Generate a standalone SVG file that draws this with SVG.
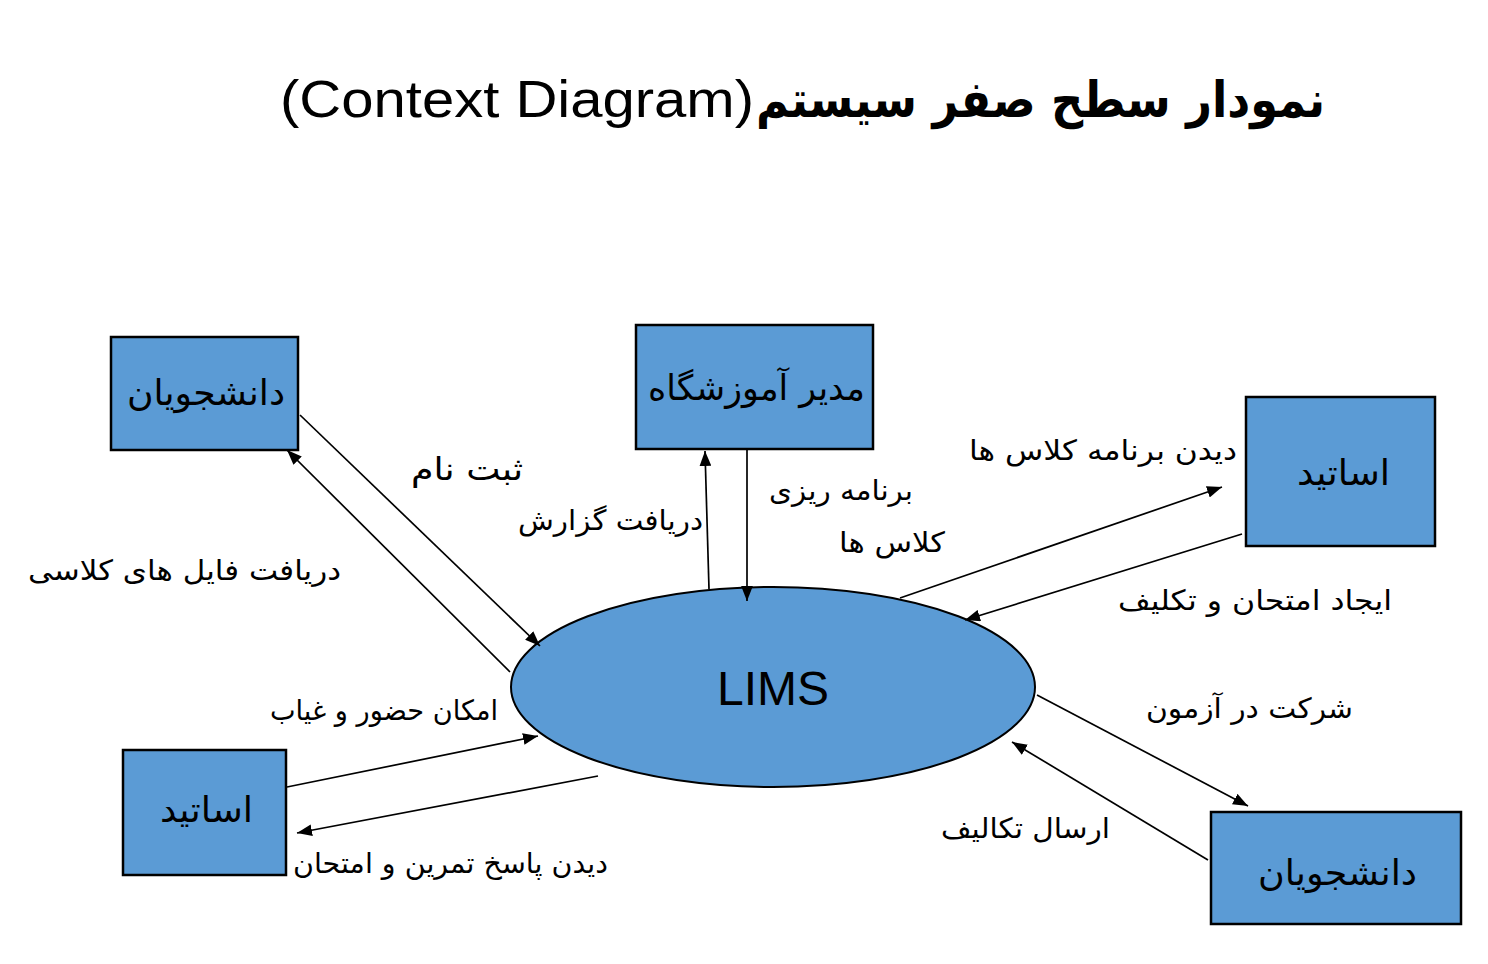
<svg xmlns="http://www.w3.org/2000/svg" width="1488" height="964" viewBox="0 0 1488 964">
<defs>
<style>
.box{fill:#5B9BD5;stroke:#000;stroke-width:2.5}
.fa{font-family:"DejaVu Sans","Noto Sans",sans-serif;fill:#000}
.lbl{font-size:28px}
.nd{font-size:35px}
.ln{stroke:#000;stroke-width:1.7;fill:none;marker-end:url(#ah)}
</style>
<marker id="ah" viewBox="0 0 14 11" refX="14" refY="5.5" markerWidth="15" markerHeight="12" markerUnits="userSpaceOnUse" orient="auto">
<path d="M0,0 L14,5.5 L0,11 z" fill="#000"/>
</marker>
</defs>
<rect width="1488" height="964" fill="#fff"/>
<g id="title">
<text x="280" y="117" font-family="'Liberation Sans Narrow','Liberation Sans',sans-serif" font-size="52" textLength="474" lengthAdjust="spacingAndGlyphs">(Context Diagram)</text>
<text class="fa" x="756" y="117" font-size="50" font-weight="bold" textLength="569" lengthAdjust="spacingAndGlyphs">نمودار سطح صفر سیستم</text>
</g>
<g id="lims">
<ellipse cx="773" cy="687" rx="262" ry="100" fill="#5B9BD5" stroke="#000" stroke-width="2"/>
<text x="773" y="705" font-family="'Liberation Sans',Arial,sans-serif" font-size="48" text-anchor="middle">LIMS</text>
</g>
<g id="connectors">
<line class="ln" x1="300" y1="415" x2="540" y2="646"/>
<line class="ln" x1="510" y1="672" x2="287" y2="450"/>
<line class="ln" x1="709" y1="589" x2="705" y2="451"/>
<line class="ln" x1="747" y1="450" x2="747" y2="601"/>
<line class="ln" x1="900" y1="598" x2="1222" y2="487"/>
<line class="ln" x1="1242" y1="534" x2="965" y2="620"/>
<line class="ln" x1="287" y1="787" x2="538" y2="736"/>
<line class="ln" x1="598" y1="776" x2="297" y2="833"/>
<line class="ln" x1="1037" y1="695" x2="1248" y2="806"/>
<line class="ln" x1="1208" y1="860" x2="1012" y2="742"/>
</g>
<g id="students-top">
<rect class="box" x="111" y="337" width="187" height="113"/>
<text class="fa nd" x="127" y="405" textLength="158" lengthAdjust="spacingAndGlyphs">دانشجویان</text>
</g>
<g id="manager">
<rect class="box" x="636" y="325" width="237" height="124"/>
<text class="fa nd" x="648" y="400" textLength="217" lengthAdjust="spacingAndGlyphs">مدیر آموزشگاه</text>
</g>
<g id="teachers-right">
<rect class="box" x="1246" y="397" width="189" height="149"/>
<text class="fa nd" x="1297" y="485" textLength="93" lengthAdjust="spacingAndGlyphs">اساتید</text>
</g>
<g id="teachers-left">
<rect class="box" x="123" y="750" width="163" height="125"/>
<text class="fa nd" x="160" y="822" textLength="93" lengthAdjust="spacingAndGlyphs">اساتید</text>
</g>
<g id="students-bottom">
<rect class="box" x="1211" y="812" width="250" height="112"/>
<text class="fa nd" x="1258" y="885" textLength="159" lengthAdjust="spacingAndGlyphs">دانشجویان</text>
</g>
<g id="labels">
<text class="fa" x="411" y="480" font-size="32" textLength="112" lengthAdjust="spacingAndGlyphs">ثبت نام</text>
<text class="fa lbl" x="28" y="580" textLength="313" lengthAdjust="spacingAndGlyphs">دریافت فایل های کلاسی</text>
<text class="fa lbl" x="518" y="530" textLength="185" lengthAdjust="spacingAndGlyphs">دریافت گزارش</text>
<text class="fa lbl" x="769" y="500" textLength="144" lengthAdjust="spacingAndGlyphs">برنامه ریزی</text>
<text class="fa lbl" x="839" y="552" textLength="106" lengthAdjust="spacingAndGlyphs">کلاس ها</text>
<text class="fa lbl" x="969" y="460" textLength="268" lengthAdjust="spacingAndGlyphs">دیدن برنامه کلاس ها</text>
<text class="fa lbl" x="1118" y="610" textLength="274" lengthAdjust="spacingAndGlyphs">ایجاد امتحان و تکلیف</text>
<text class="fa lbl" x="270" y="720" textLength="228" lengthAdjust="spacingAndGlyphs">امکان حضور و غیاب</text>
<text class="fa lbl" x="293" y="873" textLength="315" lengthAdjust="spacingAndGlyphs">دیدن پاسخ تمرین و امتحان</text>
<text class="fa lbl" x="1146" y="718" textLength="207" lengthAdjust="spacingAndGlyphs">شرکت در آزمون</text>
<text class="fa lbl" x="941" y="838" textLength="169" lengthAdjust="spacingAndGlyphs">ارسال تکالیف</text>
</g>
</svg>
